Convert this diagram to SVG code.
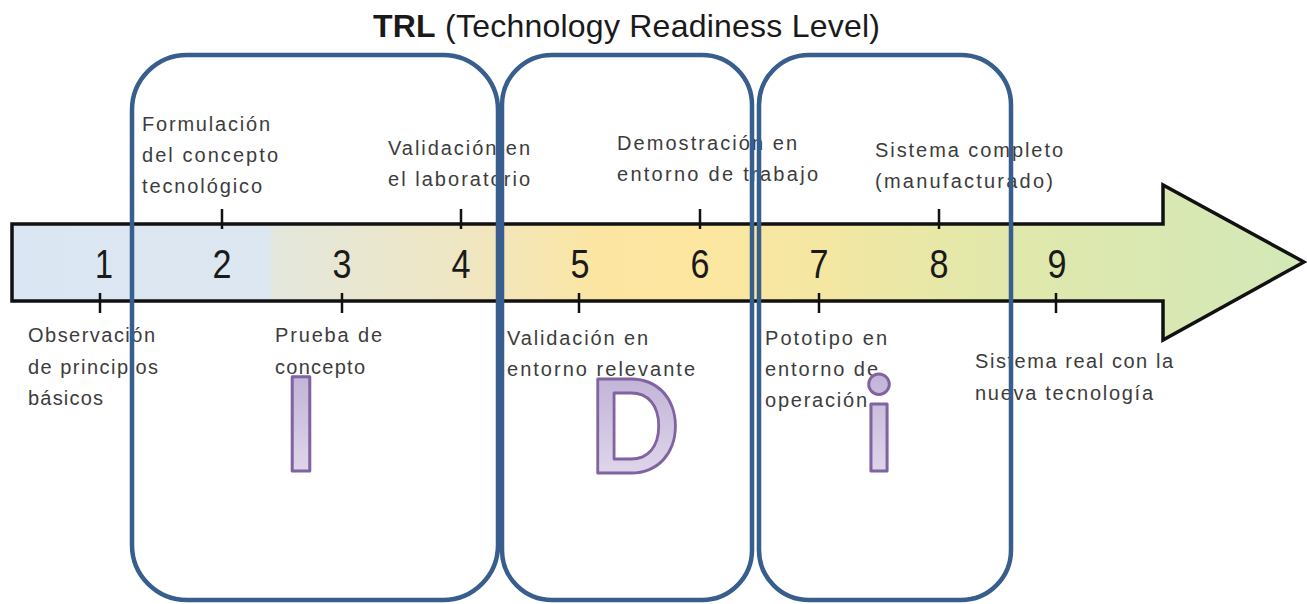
<svg xmlns="http://www.w3.org/2000/svg" width="1307" height="604" viewBox="0 0 1307 604">
<defs>
<linearGradient id="ag" gradientUnits="userSpaceOnUse" x1="12" y1="0" x2="1305" y2="0">
<stop offset="0" stop-color="#dae6f3"/>
<stop offset="0.198" stop-color="#dde7f1"/>
<stop offset="0.202" stop-color="#e4e7dd"/>
<stop offset="0.35" stop-color="#efe6c2"/>
<stop offset="0.46" stop-color="#fce5a0"/>
<stop offset="0.53" stop-color="#fde6a0"/>
<stop offset="0.63" stop-color="#f3e7a2"/>
<stop offset="0.72" stop-color="#e6e8a8"/>
<stop offset="0.82" stop-color="#dde8ae"/>
<stop offset="1" stop-color="#d3e8b8"/>
</linearGradient>
<linearGradient id="pg" x1="0" y1="0" x2="0" y2="1">
<stop offset="0" stop-color="#b9a9d0"/>
<stop offset="1" stop-color="#e6dff0"/>
</linearGradient>
<style>
.lbl{font-family:"Liberation Sans",Arial,sans-serif;font-size:20px;fill:#3c3c3c}
.num{font-family:"Liberation Sans",Arial,sans-serif;font-size:40px;fill:#1a1a1a;text-anchor:middle}
.tick{stroke:#111;stroke-width:2.5}
.box{fill:none;stroke:#375e8c;stroke-width:4.5}
.big{font-family:Lato,"Liberation Sans",sans-serif;font-weight:bold;font-size:130px;fill:url(#pg);stroke:#8064a2;stroke-width:3;stroke-linejoin:round;text-anchor:middle}
</style>
</defs>
<g id="title">
<text x="373" y="37" font-family="Liberation Sans,Arial,sans-serif" font-size="32" fill="#1a1a1a" textLength="507"><tspan font-weight="bold">TRL</tspan> (Technology Readiness Level)</text>
</g>
<g id="arrow">
<path d="M12 224 H1163 V185 L1304 262 L1163 340 V301 H12 Z" fill="url(#ag)" stroke="#111" stroke-width="3.5" stroke-linejoin="miter"/>
</g>
<g id="ticks">
<line class="tick" x1="222" y1="209" x2="222" y2="229"/>
<line class="tick" x1="461" y1="209" x2="461" y2="229"/>
<line class="tick" x1="700" y1="209" x2="700" y2="229"/>
<line class="tick" x1="939" y1="209" x2="939" y2="229"/>
<line class="tick" x1="100" y1="293" x2="100" y2="313"/>
<line class="tick" x1="342" y1="293" x2="342" y2="313"/>
<line class="tick" x1="579" y1="293" x2="579" y2="313"/>
<line class="tick" x1="819" y1="293" x2="819" y2="313"/>
<line class="tick" x1="1056" y1="293" x2="1056" y2="313"/>
</g>
<g id="numbers">
<text class="num" x="104" y="278" textLength="18" lengthAdjust="spacingAndGlyphs">1</text>
<text class="num" x="222" y="278" textLength="19" lengthAdjust="spacingAndGlyphs">2</text>
<text class="num" x="342" y="278" textLength="19" lengthAdjust="spacingAndGlyphs">3</text>
<text class="num" x="461" y="278" textLength="19" lengthAdjust="spacingAndGlyphs">4</text>
<text class="num" x="580" y="278" textLength="19" lengthAdjust="spacingAndGlyphs">5</text>
<text class="num" x="700" y="278" textLength="19" lengthAdjust="spacingAndGlyphs">6</text>
<text class="num" x="819" y="278" textLength="19" lengthAdjust="spacingAndGlyphs">7</text>
<text class="num" x="939" y="278" textLength="19" lengthAdjust="spacingAndGlyphs">8</text>
<text class="num" x="1057" y="278" textLength="19" lengthAdjust="spacingAndGlyphs">9</text>
</g>
<g id="labels-top">
<text class="lbl" x="142" y="131" textLength="128">Formulación</text>
<text class="lbl" x="142" y="162" textLength="136">del concepto</text>
<text class="lbl" x="142" y="193" textLength="120">tecnológico</text>
<text class="lbl" x="388" y="155" textLength="142">Validación en</text>
<text class="lbl" x="388" y="186" textLength="142">el laboratorio</text>
<text class="lbl" x="617" y="150" textLength="180">Demostración en</text>
<text class="lbl" x="617" y="181" textLength="201">entorno de trabajo</text>
<text class="lbl" x="875" y="157" textLength="188">Sistema completo</text>
<text class="lbl" x="875" y="188" textLength="178">(manufacturado)</text>
</g>
<g id="labels-bottom">
<text class="lbl" x="28" y="342" textLength="127">Observación</text>
<text class="lbl" x="28" y="374" textLength="130">de principios</text>
<text class="lbl" x="28" y="405" textLength="75">básicos</text>
<text class="lbl" x="275" y="342" textLength="107">Prueba de</text>
<text class="lbl" x="275" y="374" textLength="90">concepto</text>
<text class="lbl" x="507" y="345" textLength="141">Validación en</text>
<text class="lbl" x="507" y="376" textLength="188">entorno relevante</text>
<text class="lbl" x="765" y="345" textLength="122">Pototipo en</text>
<text class="lbl" x="765" y="376" textLength="113">entorno de</text>
<text class="lbl" x="765" y="407" textLength="102">operación</text>
<text class="lbl" x="975" y="368" textLength="198">Sistema real con la</text>
<text class="lbl" x="975" y="400" textLength="178">nueva tecnología</text>
</g>
<g id="letter-I"><text class="big" x="301" y="471">I</text></g>
<g id="letter-D"><text class="big" x="634" y="473" textLength="92" lengthAdjust="spacingAndGlyphs">D</text></g>
<g id="letter-i"><text class="big" x="879" y="471" font-size="134">i</text></g>
<g id="box-I"><rect class="box" x="132" y="55" width="366" height="545" rx="55" ry="55"/></g>
<g id="box-D"><rect class="box" x="502" y="55" width="250" height="545" rx="50" ry="50"/></g>
<g id="box-i"><rect class="box" x="759" y="55" width="252" height="545" rx="50" ry="50"/></g>
</svg>
